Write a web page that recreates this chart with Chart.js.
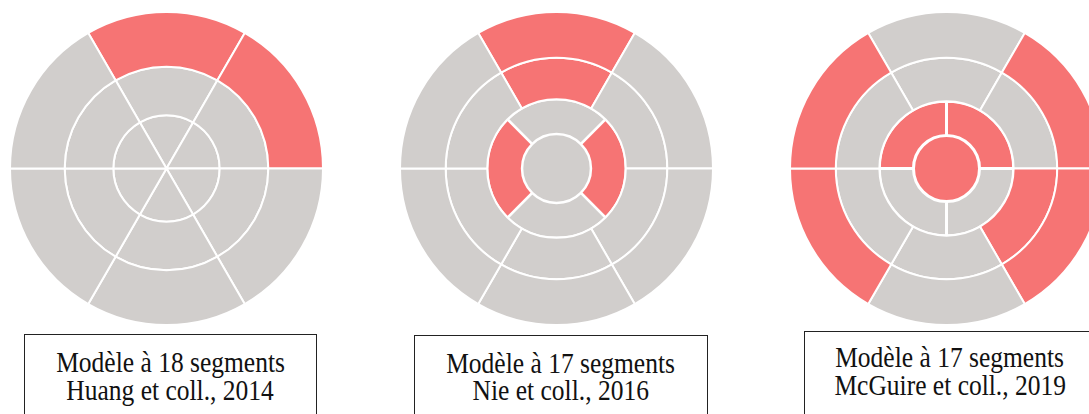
<!DOCTYPE html>
<html>
<head>
<meta charset="utf-8">
<script src="https://cdn.jsdelivr.net/npm/chart.js@4.4.1/dist/chart.umd.min.js"></script>
<style>
  html, body { margin:0; padding:0; width:1089px; height:414px; overflow:hidden; background:#fff; }
  .wrap { position:absolute; }
  .box { position:absolute; border:1px solid #222; background:#fff; box-sizing:border-box;
         font-family:"Liberation Serif","Times New Roman",serif; font-size:30px; color:#111; text-align:center; }
  .line { position:absolute; left:0; right:0; white-space:nowrap; }
  .line span { display:inline-block; transform:scaleX(0.85); transform-origin:center; }
</style>
</head>
<body>
<div class="wrap" id="w1"><canvas id="c1"></canvas></div>
<div class="wrap" id="w2"><canvas id="c2"></canvas></div>
<div class="wrap" id="w3"><canvas id="c3"></canvas></div>
<div class="box" id="b1"></div>
<div class="box" id="b2"></div>
<div class="box" id="b3"></div>
<script>
// ---------- DATA ----------
// Segment status: 1 = highlighted (red), 0 = not highlighted (grey)
// 6-segment rings ordered clockwise from the top: anterior, anterolateral, inferolateral, inferior, inferoseptal, anteroseptal
const ringLabels6 = ["antérieur", "antérolatéral", "inférolatéral", "inférieur", "inféroseptal", "antéroseptal"];
// Huang et coll., 2014 — 18-segment model
const huangBasal  = [1, 1, 0, 0, 0, 0];
const huangMid    = [0, 0, 0, 0, 0, 0];
const huangApical = [0, 0, 0, 0, 0, 0];

// Nie et coll., 2016 — 17-segment model
const apicalLabels4Diag = ["antérieur", "latéral", "inférieur", "septal"];
const nieBasal  = [1, 0, 0, 0, 0, 0];
const nieMid    = [1, 0, 0, 0, 0, 0];
const nieApical = [0, 1, 0, 1];
const nieApex   = [0];

// McGuire et coll., 2019 — 17-segment model
const apicalLabels4 = ["antéro-latéral", "inféro-latéral", "inféro-septal", "antéro-septal"];
const mcguireBasal  = [0, 1, 1, 0, 1, 1];
const mcguireMid    = [0, 0, 1, 0, 0, 0];
const mcguireApical = [1, 0, 0, 1];
const mcguireApex   = [1];

const captions = [
  ["Modèle à 18 segments", "Huang et coll., 2014"],
  ["Modèle à 17 segments", "Nie et coll., 2016"],
  ["Modèle à 17 segments", "McGuire et coll., 2019"]
];

// ---------- STYLE ----------
const RED = "#F67474";
const GREY = "#D1CECC";
const SIZE = 315;

function ringDataset(r) {
  return {
    data: r.status.map(() => 1),
    backgroundColor: r.status.map(s => s ? RED : GREY),
    borderColor: "#ffffff",
    borderWidth: r.border,
    rotation: r.rotation,
    weight: r.weight,
    labels: r.labels
  };
}

function bullseye(id, rings) {
  new Chart(document.getElementById(id), {
    type: "doughnut",
    data: {
      labels: rings[0].labels,
      datasets: rings.map(ringDataset)
    },
    options: {
      responsive: false,
      animation: false,
      events: [],
      cutout: 0,
      layout: { padding: 0 },
      plugins: { legend: { display: false }, tooltip: { enabled: false } }
    }
  });
}

function place(wrapId, canvasId, cx, cy) {
  const w = document.getElementById(wrapId);
  const c = document.getElementById(canvasId);
  c.width = SIZE; c.height = SIZE;
  c.style.width = SIZE + "px"; c.style.height = SIZE + "px";
  w.style.left = (cx - SIZE / 2) + "px";
  w.style.top = (cy - SIZE / 2) + "px";
}

place("w1", "c1", 166, 168.5);
place("w2", "c2", 556.3, 168.5);
place("w3", "c3", 946.8, 168.8);

bullseye("c1", [
  { status: huangBasal,  labels: ringLabels6, rotation: -30, weight: 54.5, border: 2 },
  { status: huangMid,    labels: ringLabels6, rotation: -30, weight: 48.5, border: 2 },
  { status: huangApical, labels: ringLabels6, rotation: -30, weight: 53,   border: 2 }
]);
bullseye("c2", [
  { status: nieBasal,  labels: ringLabels6, rotation: -30, weight: 45.5, border: 2 },
  { status: nieMid,    labels: ringLabels6, rotation: -30, weight: 41.3, border: 2 },
  { status: nieApical, labels: apicalLabels4Diag, rotation: -45, weight: 34.7, border: 2.5 },
  { status: nieApex,   labels: ["apex"], rotation: 0, weight: 34.3, border: 0 }
]);
bullseye("c3", [
  { status: mcguireBasal,  labels: ringLabels6, rotation: -30, weight: 45.5, border: 2 },
  { status: mcguireMid,    labels: ringLabels6, rotation: -30, weight: 43.3, border: 2 },
  { status: mcguireApical, labels: apicalLabels4, rotation: 0, weight: 33.9, border: 3 },
  { status: mcguireApex,   labels: ["apex"], rotation: 0, weight: 32.8, border: 0 }
]);

// ---------- CAPTION BOXES ----------
const boxes = [
  { id: "b1", left: 24,  top: 334, width: 293, base1: 372, base2: 400 },
  { id: "b2", left: 414, top: 335, width: 294, base1: 372.5, base2: 400 },
  { id: "b3", left: 804, top: 331, width: 292, base1: 366.5, base2: 395 }
];
boxes.forEach((b, i) => {
  const el = document.getElementById(b.id);
  el.style.left = b.left + "px";
  el.style.top = b.top + "px";
  el.style.width = b.width + "px";
  el.style.height = (414 - b.top + 20) + "px";
  captions[i].forEach((t, j) => {
    const d = document.createElement("div");
    d.className = "line";
    const base = j === 0 ? b.base1 : b.base2;
    d.style.top = (base - b.top - 1 - 27) + "px";
    d.style.lineHeight = "34px";
    d.style.height = "34px";
    const s = document.createElement("span");
    s.textContent = t;
    d.appendChild(s);
    el.appendChild(d);
  });
});
</script>
</body>
</html>
